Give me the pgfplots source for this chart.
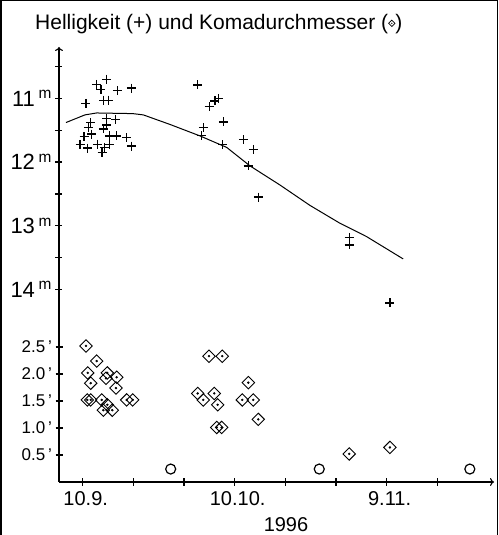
\documentclass[border=0pt]{standalone}
\usepackage{fontspec}
\setmainfont{Liberation Sans}
\usepackage{pgfplots}
\pgfplotsset{compat=1.18}
\usetikzlibrary{arrows.meta}

% Helligkeit (Magnituden), x = Tag ab 1.9.1996
\pgfplotstableread{
x mag
14.74 10.70
12.76 10.78
13.61 10.86
16.83 10.88
19.59 10.84
10.65 11.08
14.14 11.03
15.13 11.03
11.58 11.38
14.74 11.32
16.51 11.33
11.11 11.46
14.74 11.42
14.07 11.48
11.78 11.56
10.26 11.60
15.25 11.59
16.71 11.59
18.68 11.62
9.47 11.73
10.99 11.78
12.88 11.72
15.25 11.72
14.26 11.77
19.59 11.75
13.81 11.85
32.70 10.79
36.75 11.00
36.10 11.04
34.98 11.13
37.75 11.37
33.80 11.46
33.48 11.58
37.63 11.73
41.70 11.65
43.67 11.80
42.68 12.06
44.66 12.55
62.62 13.18
62.62 13.30
70.65 14.21
}\helligkeit

\pgfplotstableread{
x mag
6.70 11.38
10.45 11.26
12.76 11.23
19.87 11.24
21.96 11.26
27.23 11.41
33.15 11.59
38.42 11.77
43.02 12.06
48.94 12.36
54.86 12.68
60.78 12.96
66.05 13.17
73.27 13.52
}\kurve

% Komadurchmesser in Bogenminuten
\pgfplotstableread{
x koma
10.65 2.52
12.76 2.24
10.99 2.02
11.58 1.83
14.86 2.02
14.60 1.92
16.71 1.94
16.57 1.74
10.91 1.52
11.58 1.52
13.75 1.52
14.86 1.43
14.07 1.33
15.84 1.33
18.68 1.52
19.87 1.52
34.93 2.33
37.55 2.33
42.70 1.84
32.70 1.64
33.80 1.52
35.97 1.64
36.64 1.43
41.50 1.52
43.67 1.52
44.66 1.16
36.45 1.01
37.43 1.01
62.62 0.52
70.65 0.64
}\koma

\pgfplotsset{
  common/.style={
    scale only axis, width=435pt, height=435pt,
    at={(59pt,53pt)}, anchor=south west,
    xmin=5.32, xmax=91.2, clip=false,
    axis lines=left,
    axis line style={line width=1.2pt, -{To[length=4pt,width=8pt]}},
    tick align=center, major tick length=7pt, minor tick length=7pt,
    every tick/.style={black, line width=1.2pt},
    every minor tick/.style={black, line width=1.2pt},
  },
}

\newcommand{\komamark}{\tikz[baseline=-0.6ex]{%
  \draw[line width=0.7pt] (0,-3.2pt) -- (3.2pt,0) -- (0,3.2pt) -- (-3.2pt,0) -- cycle;
  \fill (0,0) circle (0.7pt);}}

\begin{document}
\begin{tikzpicture}[x=1pt,y=1pt]
\useasboundingbox (0,0) rectangle (498,535);
\draw[line width=1.5pt] (0.75,0) -- (0.75,534.25) -- (497.25,534.25) -- (497.25,0);
\node[anchor=base west, inner sep=0, font=\fontsize{21}{23}\selectfont] at (35,505)
  {Helligkeit (+) und Komadurchmesser (\komamark)};

\begin{axis}[common,
  ymin=0, ymax=8.056,
  ytick={0.5,1,1.5,2,2.5},
  yticklabels={0.5\,',1.0\,',1.5\,',2.0\,',2.5\,'},
  yticklabel style={font=\fontsize{17}{19}\selectfont},
  xtick={10,40,70}, xticklabels={10.9.,10.10.,9.11.},
  minor xtick={20,30,50,60,80},
  xticklabel style={font=\fontsize{20}{22}\selectfont, xshift=3pt, yshift=-3pt},
]
\addplot[only marks, mark=square, mark size=4.4pt,
  mark options={rotate=45, line width=0.9pt}] table[x=x, y=koma] {\koma};
\addplot[only marks, mark=*, mark size=1pt] table[x=x, y=koma] {\koma};
\addplot[only marks, mark=o, mark size=5pt, mark options={line width=1.2pt}]
  coordinates {(27.37,0.24) (56.70,0.24) (86.43,0.24)};
\end{axis}

\begin{axis}[common,
  y dir=reverse, ymin=10.195, ymax=17.02,
  hide x axis, y axis line style={draw=none},
  ytick={11,12,13,14},
  yticklabels={11\,\textsuperscript{m},12\,\textsuperscript{m},13\,\textsuperscript{m},14\,\textsuperscript{m}},
  minor ytick={10.5,11.5,12.5,13.5},
  yticklabel style={font=\fontsize{22}{24}\selectfont},
]
\addplot[only marks, mark=+, mark size=4.5pt, mark options={line width=1.3pt}]
  table[x=x, y=mag] {\helligkeit};
\addplot[no marks, line width=1pt] table[x=x, y=mag] {\kurve};
\end{axis}

\node[font=\fontsize{20}{22}\selectfont] at (286,10) {1996};
\end{tikzpicture}
\end{document}
